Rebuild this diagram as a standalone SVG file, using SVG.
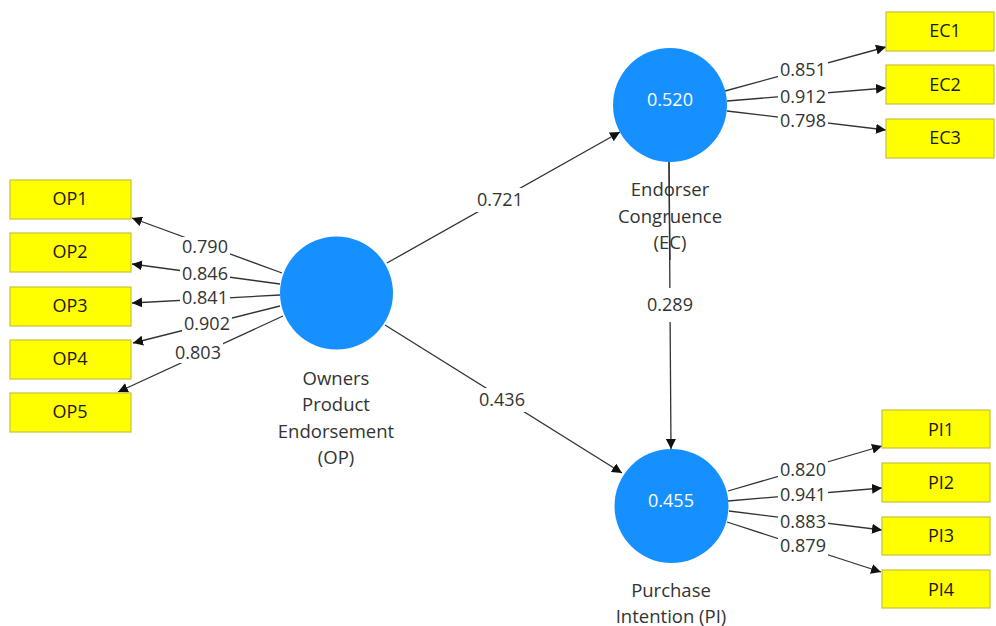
<svg xmlns="http://www.w3.org/2000/svg" width="996" height="626" viewBox="0 0 996 626">
<style>
.box{fill:#FFFF00;stroke:#C8C23C;stroke-width:1.2}
.bt{font-family:"Open Sans","Noto Sans",sans-serif;font-size:18px;fill:#1a1a1a;text-anchor:middle;dominant-baseline:central}
.lv{fill:#1790FF}
.vt{font-family:"Open Sans","Noto Sans",sans-serif;font-size:18px;fill:#ffffff;text-anchor:middle;dominant-baseline:central}
.nt{font-family:"Open Sans","Noto Sans",sans-serif;font-size:18.5px;fill:#333333;text-anchor:middle;dominant-baseline:central}
.ln{stroke:#333333;stroke-width:1.3;fill:none;marker-end:url(#ah)}
.lt{font-family:"Open Sans","Noto Sans",sans-serif;font-size:18px;fill:#333333;text-anchor:middle;dominant-baseline:central}
.lb{fill:#ffffff}
</style>
<defs>
<marker id="ah" viewBox="0 0 10 10" refX="10" refY="5" markerWidth="10" markerHeight="10" markerUnits="userSpaceOnUse" orient="auto">
<path d="M0,0 L10,5 L0,10 Z" fill="#111111"/>
</marker>
</defs>
<rect width="996" height="626" fill="#ffffff"/>

<g id="connectors">
<line class="ln" x1="282" y1="273" x2="132" y2="218"/>
<line class="ln" x1="280" y1="284" x2="132" y2="264"/>
<line class="ln" x1="280" y1="295" x2="132" y2="303"/>
<line class="ln" x1="280" y1="306" x2="133" y2="343"/>
<line class="ln" x1="283" y1="316" x2="118" y2="392"/>
<line class="ln" x1="725" y1="91" x2="886" y2="47"/>
<line class="ln" x1="727" y1="101" x2="886" y2="88"/>
<line class="ln" x1="727" y1="111" x2="886" y2="130"/>
<line class="ln" x1="728" y1="491" x2="882" y2="446"/>
<line class="ln" x1="728" y1="501" x2="882" y2="488"/>
<line class="ln" x1="729" y1="511" x2="882" y2="530"/>
<line class="ln" x1="727" y1="522" x2="881" y2="572"/>
<line class="ln" x1="387" y1="263" x2="620" y2="132"/>
<line class="ln" x1="385" y1="325" x2="622" y2="473"/>
<line class="ln" x1="669" y1="162" x2="671" y2="449"/>
<g id="labels">
<rect class="lb" x="180" y="237" width="50" height="20"/><text class="lt" x="205" y="246">0.790</text>
<rect class="lb" x="180" y="265" width="50" height="18"/><text class="lt" x="205" y="273">0.846</text>
<rect class="lb" x="180" y="289" width="50" height="18"/><text class="lt" x="205" y="297">0.841</text>
<rect class="lb" x="182" y="315" width="50" height="18"/><text class="lt" x="207" y="323">0.902</text>
<rect class="lb" x="173" y="343" width="50" height="20"/><text class="lt" x="198" y="352">0.803</text>
<rect class="lb" x="778" y="60" width="50" height="20"/><text class="lt" x="803" y="69">0.851</text>
<rect class="lb" x="778" y="88" width="50" height="18"/><text class="lt" x="803" y="96">0.912</text>
<rect class="lb" x="778" y="112" width="50" height="18"/><text class="lt" x="803" y="120">0.798</text>
<rect class="lb" x="778" y="460" width="50" height="20"/><text class="lt" x="803" y="469">0.820</text>
<rect class="lb" x="778" y="486" width="50" height="18"/><text class="lt" x="803" y="494">0.941</text>
<rect class="lb" x="778" y="513" width="50" height="18"/><text class="lt" x="803" y="521">0.883</text>
<rect class="lb" x="778" y="536" width="50" height="20"/><text class="lt" x="803" y="545">0.879</text>
<rect class="lb" x="475" y="188" width="50" height="24"/><text class="lt" x="500" y="199">0.721</text>
<rect class="lb" x="477" y="388" width="50" height="24"/><text class="lt" x="502" y="399">0.436</text>
<rect class="lb" x="645" y="288" width="50" height="34"/><text class="lt" x="670" y="304">0.289</text>
</g>
</g>

<g id="OP">
<circle class="lv" cx="336.5" cy="293" r="56.5"/>
<text class="nt" x="336" y="377">Owners</text>
<text class="nt" x="336" y="403">Product</text>
<text class="nt" x="336" y="430">Endorsement</text>
<text class="nt" x="336" y="456">(OP)</text>
</g>
<g id="EC">
<circle class="lv" cx="670" cy="105" r="57"/>
<text class="vt" x="670" y="99">0.520</text>
<text class="nt" x="670" y="188">Endorser</text>
<text class="nt" x="670" y="215">Congruence</text>
<text class="nt" x="670" y="241">(EC)</text>
</g>
<g id="PI">
<circle class="lv" cx="671.5" cy="506" r="57"/>
<text class="vt" x="671" y="500">0.455</text>
<text class="nt" x="671" y="589">Purchase</text>
<text class="nt" x="671" y="615">Intention (PI)</text>
</g>
<line x1="669" y1="162" x2="670" y2="260" stroke="#333333" stroke-width="1.3"/>

<g id="OP1"><rect class="box" x="10" y="180" width="121" height="39"/><text class="bt" x="70" y="198">OP1</text></g>
<g id="OP2"><rect class="box" x="10" y="233" width="121" height="39"/><text class="bt" x="70" y="251">OP2</text></g>
<g id="OP3"><rect class="box" x="10" y="287" width="121" height="39"/><text class="bt" x="70" y="305">OP3</text></g>
<g id="OP4"><rect class="box" x="10" y="340" width="121" height="39"/><text class="bt" x="70" y="358">OP4</text></g>
<g id="OP5"><rect class="box" x="10" y="393" width="121" height="39"/><text class="bt" x="70" y="411">OP5</text></g>
<g id="EC1"><rect class="box" x="886" y="12" width="108" height="39"/><text class="bt" x="945" y="30">EC1</text></g>
<g id="EC2"><rect class="box" x="886" y="65" width="108" height="39"/><text class="bt" x="945" y="84">EC2</text></g>
<g id="EC3"><rect class="box" x="886" y="119" width="108" height="39"/><text class="bt" x="945" y="137">EC3</text></g>
<g id="PI1"><rect class="box" x="882" y="410" width="108" height="38"/><text class="bt" x="941" y="429">PI1</text></g>
<g id="PI2"><rect class="box" x="882" y="463" width="108" height="39"/><text class="bt" x="941" y="482">PI2</text></g>
<g id="PI3"><rect class="box" x="882" y="517" width="108" height="38"/><text class="bt" x="941" y="535">PI3</text></g>
<g id="PI4"><rect class="box" x="882" y="570" width="108" height="38"/><text class="bt" x="941" y="589">PI4</text></g>
</svg>
